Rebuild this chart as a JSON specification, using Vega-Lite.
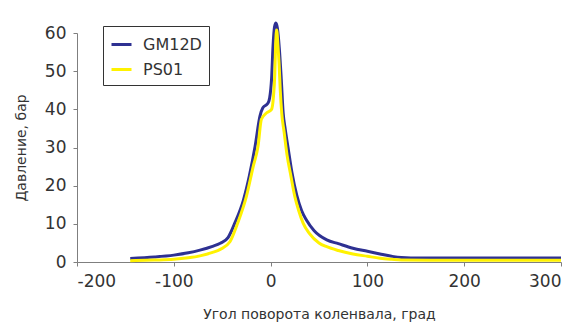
{
  "$schema": "https://vega.github.io/schema/vega-lite/v6.json",
  "autosize": "none",
  "width": 484,
  "height": 229,
  "padding": {"left": 77, "top": 33, "right": 13, "bottom": 62},
  "background": "white",
  "config": {
    "view": {"stroke": null},
    "font": "DejaVu Sans",
    "axis": {
      "grid": false,
      "domainColor": "#7f7f7f",
      "tickColor": "#7f7f7f",
      "tickSize": 4,
      "labelColor": "#333333",
      "labelFontSize": 17,
      "labelFont": "DejaVu Sans",
      "titleColor": "#333333",
      "titleFont": "DejaVu Sans",
      "titleFontWeight": "normal",
      "titleFontSize": 14
    }
  },
  "data": {
    "values": [
      {"angle": -145, "pressure": 0.9, "series": "GM12D"},
      {"angle": -120, "pressure": 1.3, "series": "GM12D"},
      {"angle": -100, "pressure": 1.8, "series": "GM12D"},
      {"angle": -85, "pressure": 2.4, "series": "GM12D"},
      {"angle": -73, "pressure": 3.1, "series": "GM12D"},
      {"angle": -60, "pressure": 4.1, "series": "GM12D"},
      {"angle": -52, "pressure": 4.9, "series": "GM12D"},
      {"angle": -44, "pressure": 6.4, "series": "GM12D"},
      {"angle": -37, "pressure": 10.2, "series": "GM12D"},
      {"angle": -28, "pressure": 16.3, "series": "GM12D"},
      {"angle": -22, "pressure": 22.5, "series": "GM12D"},
      {"angle": -16, "pressure": 30.3, "series": "GM12D"},
      {"angle": -11, "pressure": 38.2, "series": "GM12D"},
      {"angle": -8, "pressure": 40.4, "series": "GM12D"},
      {"angle": -3, "pressure": 41.5, "series": "GM12D"},
      {"angle": -1, "pressure": 43, "series": "GM12D"},
      {"angle": 1, "pressure": 48, "series": "GM12D"},
      {"angle": 2.5, "pressure": 56.5, "series": "GM12D"},
      {"angle": 4, "pressure": 61.5, "series": "GM12D"},
      {"angle": 5.5, "pressure": 62.6, "series": "GM12D"},
      {"angle": 7, "pressure": 61.3, "series": "GM12D"},
      {"angle": 9, "pressure": 56, "series": "GM12D"},
      {"angle": 11, "pressure": 48, "series": "GM12D"},
      {"angle": 13, "pressure": 39, "series": "GM12D"},
      {"angle": 15, "pressure": 35, "series": "GM12D"},
      {"angle": 18, "pressure": 30, "series": "GM12D"},
      {"angle": 22, "pressure": 23.5, "series": "GM12D"},
      {"angle": 27, "pressure": 17.5, "series": "GM12D"},
      {"angle": 32, "pressure": 13.5, "series": "GM12D"},
      {"angle": 37, "pressure": 11, "series": "GM12D"},
      {"angle": 45, "pressure": 8.2, "series": "GM12D"},
      {"angle": 58, "pressure": 5.8, "series": "GM12D"},
      {"angle": 70, "pressure": 4.8, "series": "GM12D"},
      {"angle": 85, "pressure": 3.6, "series": "GM12D"},
      {"angle": 100, "pressure": 2.8, "series": "GM12D"},
      {"angle": 113, "pressure": 2.1, "series": "GM12D"},
      {"angle": 125, "pressure": 1.5, "series": "GM12D"},
      {"angle": 135, "pressure": 1.15, "series": "GM12D"},
      {"angle": 145, "pressure": 1.05, "series": "GM12D"},
      {"angle": 165, "pressure": 1.05, "series": "GM12D"},
      {"angle": 200, "pressure": 1.05, "series": "GM12D"},
      {"angle": 250, "pressure": 1.05, "series": "GM12D"},
      {"angle": 300, "pressure": 1.05, "series": "GM12D"},
      {"angle": -145, "pressure": 0.35, "series": "PS01"},
      {"angle": -120, "pressure": 0.5, "series": "PS01"},
      {"angle": -100, "pressure": 0.7, "series": "PS01"},
      {"angle": -85, "pressure": 1.1, "series": "PS01"},
      {"angle": -73, "pressure": 1.6, "series": "PS01"},
      {"angle": -60, "pressure": 2.5, "series": "PS01"},
      {"angle": -52, "pressure": 3.3, "series": "PS01"},
      {"angle": -42, "pressure": 5.3, "series": "PS01"},
      {"angle": -34, "pressure": 10.2, "series": "PS01"},
      {"angle": -25, "pressure": 17.2, "series": "PS01"},
      {"angle": -18, "pressure": 25, "series": "PS01"},
      {"angle": -13, "pressure": 30.3, "series": "PS01"},
      {"angle": -9.5, "pressure": 37.4, "series": "PS01"},
      {"angle": -4, "pressure": 39.1, "series": "PS01"},
      {"angle": 1, "pressure": 40, "series": "PS01"},
      {"angle": 3, "pressure": 43.5, "series": "PS01"},
      {"angle": 4.3, "pressure": 49, "series": "PS01"},
      {"angle": 5.2, "pressure": 57, "series": "PS01"},
      {"angle": 6.3, "pressure": 60.8, "series": "PS01"},
      {"angle": 7.5, "pressure": 57, "series": "PS01"},
      {"angle": 8.8, "pressure": 51.8, "series": "PS01"},
      {"angle": 10, "pressure": 45, "series": "PS01"},
      {"angle": 11.5, "pressure": 39, "series": "PS01"},
      {"angle": 14, "pressure": 34, "series": "PS01"},
      {"angle": 17, "pressure": 28, "series": "PS01"},
      {"angle": 21, "pressure": 22.5, "series": "PS01"},
      {"angle": 25, "pressure": 17.2, "series": "PS01"},
      {"angle": 29, "pressure": 13.5, "series": "PS01"},
      {"angle": 33.6, "pressure": 10.2, "series": "PS01"},
      {"angle": 40, "pressure": 7.5, "series": "PS01"},
      {"angle": 50, "pressure": 5, "series": "PS01"},
      {"angle": 58, "pressure": 4, "series": "PS01"},
      {"angle": 70, "pressure": 3, "series": "PS01"},
      {"angle": 85, "pressure": 2.1, "series": "PS01"},
      {"angle": 100, "pressure": 1.5, "series": "PS01"},
      {"angle": 113, "pressure": 1.0, "series": "PS01"},
      {"angle": 125, "pressure": 0.7, "series": "PS01"},
      {"angle": 135, "pressure": 0.5, "series": "PS01"},
      {"angle": 165, "pressure": 0.45, "series": "PS01"},
      {"angle": 200, "pressure": 0.45, "series": "PS01"},
      {"angle": 250, "pressure": 0.45, "series": "PS01"},
      {"angle": 300, "pressure": 0.45, "series": "PS01"}
    ]
  },
  "mark": {"type": "line", "strokeWidth": 3, "interpolate": "monotone", "clip": false},
  "encoding": {
    "x": {
      "field": "angle",
      "type": "quantitative",
      "scale": {"domain": [-200, 300], "nice": false, "zero": false},
      "axis": {"values": [-200, -100, 0, 100, 200, 300], "labelExpr": "replace(datum.label, '\u2212', '-')", "title": "Угол поворота коленвала, град", "labelPadding": 7, "titlePadding": 18}
    },
    "y": {
      "field": "pressure",
      "type": "quantitative",
      "scale": {"domain": [0, 60], "nice": false},
      "axis": {"values": [0, 10, 20, 30, 40, 50, 60], "title": "Давление, бар", "labelPadding": 7, "titlePadding": 16}
    },
    "color": {
      "field": "series",
      "type": "nominal",
      "scale": {"domain": ["GM12D", "PS01"], "range": ["#2E3192", "#FFF200"]},
      "legend": {
        "title": null,
        "orient": "none",
        "legendX": 26,
        "legendY": -7,
        "symbolType": "stroke",
        "symbolSize": 400,
        "symbolStrokeWidth": 3,
        "labelFontSize": 16,
        "labelColor": "#333333",
        "labelFont": "DejaVu Sans",
        "labelOffset": 10,
        "rowPadding": 5,
        "padding": 7,
        "strokeColor": "#333333",
        "fillColor": "white"
      }
    }
  }
}
